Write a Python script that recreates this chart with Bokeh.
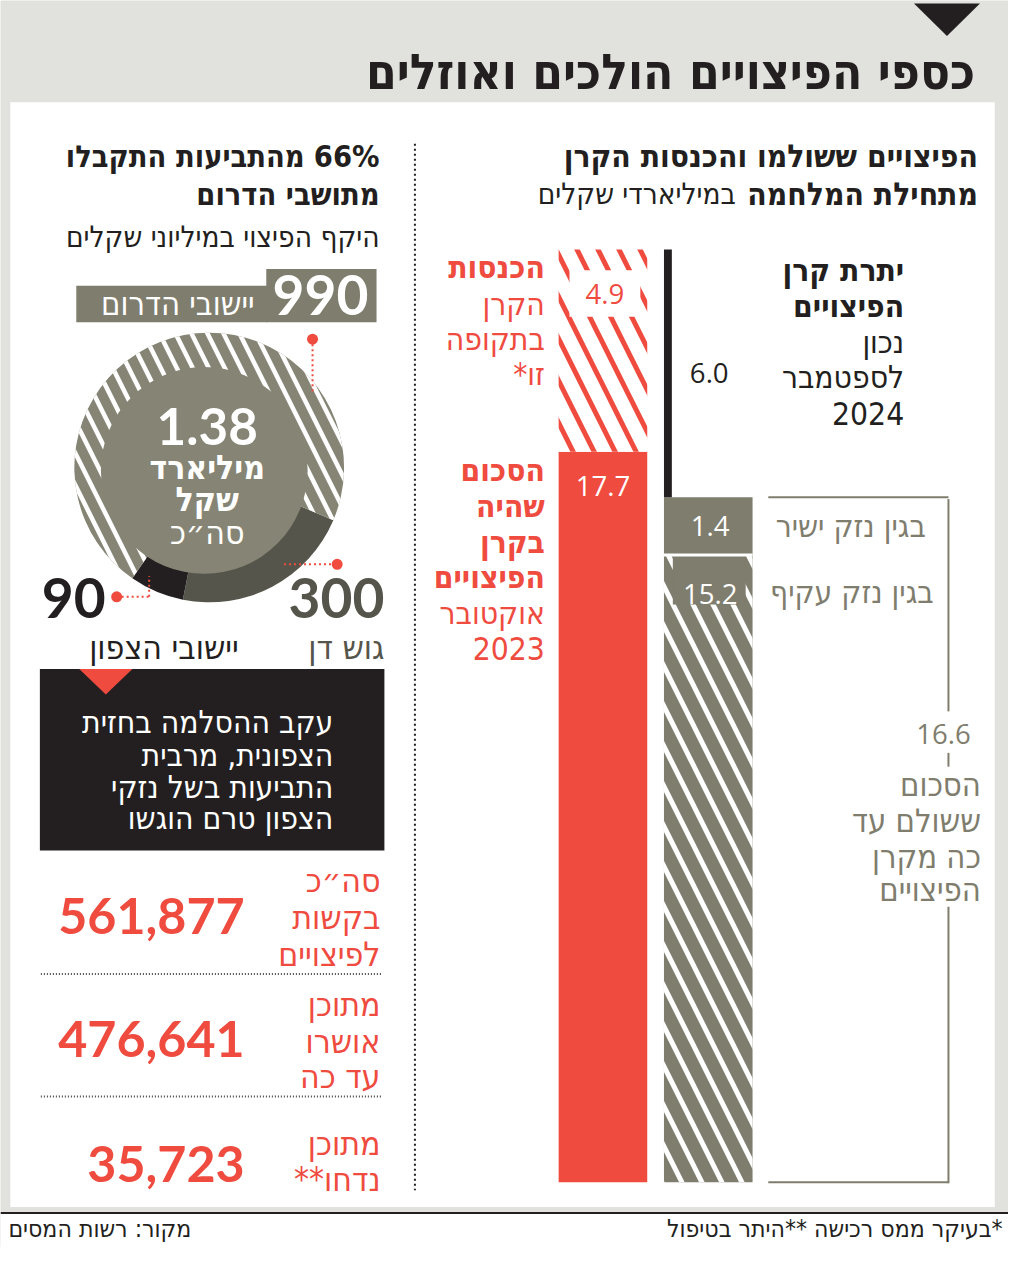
import math
from bokeh.plotting import figure
from bokeh.models import Range1d
from bokeh.embed import file_html
from bokeh.resources import INLINE
from bokeh.core.properties import value

# ---------------- data ----------------
title = "כספי הפיצויים הולכים ואוזלים"
fund_labels = ["הסכום שהיה בקרן הפיצויים אוקטובר 2023", "הכנסות הקרן בתקופה זו"]
fund_values = [17.7, 4.9]            # billions ILS
paid_labels = ["בגין נזק עקיף", "בגין נזק ישיר"]
paid_values = [15.2, 1.4]            # billions ILS
paid_total = 16.6
balance_value = 6.0
region_labels = ["גוש דן", "יישובי הצפון", "יישובי הדרום"]
region_values = [300, 90, 990]       # millions ILS
region_total_bn = 1.38
south_share = "66%"
claim_values = [561877, 476641, 35723]

# ---------------- style ----------------
HEB = "DejaVu Sans Condensed"
NUM = "Lato"
NUM2 = "Open Sans"
RED = "#ef4b3f"
GREY = "#7f7d6d"
PIE_GREY = "#868575"
DARK = "#56554b"
BLACK = "#231f20"
BG = "#e1e1dd"

REF_W, REF_H = 1024, 1263
FIG_W, FIG_H = 1008, 1247
S = FIG_W / REF_W


def Y(py):
    return REF_H - py


BASE = 1197.0      # reference-pixel y of the bar baseline
PX = 41.8          # reference pixels per billion

p = figure(width=FIG_W, height=FIG_H, x_range=Range1d(0, REF_W), y_range=Range1d(0, REF_H),
           x_axis_type=None, y_axis_type=None, toolbar_location=None, output_backend="svg",
           min_border=0, outline_line_color=None, background_fill_color=BG, border_fill_color=BG)
p.extra_y_ranges = {"bars": Range1d(start=-(REF_H - BASE) / PX, end=BASE / PX)}


def T(x, y, s, size, color, bold=False, align="right", font=HEB):
    p.text(x=[x], y=[Y(y)], text=[s], text_font=value(font), text_font_size=f"{size * S:.1f}px",
           text_color=color, text_align=align, text_baseline="middle",
           text_font_style="bold" if bold else "normal")


def TB(x, v, s, size, color, bold=False, align="center", font=NUM2):
    p.text(x=[x], y=[v], text=[s], text_font=value(font), text_font_size=f"{size * S:.1f}px",
           text_color=color, text_align=align, text_baseline="middle", y_range_name="bars",
           text_font_style="bold" if bold else "normal")


# ---------------- frame ----------------
p.quad(left=[10], right=[1010], bottom=[Y(1222)], top=[Y(103)], fill_color="white", line_color=None)
p.quad(left=[0], right=[1024], bottom=[Y(1263)], top=[Y(1229)], fill_color="white", line_color=None)
p.segment(x0=[0], x1=[1024], y0=[Y(1228)], y1=[Y(1228)], line_color=BLACK, line_width=2)
p.patch(x=[928, 995, 961.5], y=[Y(3), Y(3), Y(36)], fill_color=BLACK, line_color=None)
T(990, 72, title, 50, BLACK, bold=True)

# separator
p.segment(x0=[421], x1=[421], y0=[Y(145)], y1=[Y(1205)], line_color=BLACK, line_width=2,
          line_dash="2 3")

# ---------------- right: bars ----------------
T(993, 158, "הפיצויים ששולמו והכנסות הקרן", 32, BLACK, bold=True)
T(993, 196, "מתחילת המלחמה", 32, BLACK, bold=True)
T(747, 196, "במיליארדי שקלים", 30, BLACK)

fund_top = fund_values[0] + fund_values[1]
p.quad(left=[567], right=[657], bottom=[0], top=[fund_values[0]], y_range_name="bars",
       fill_color=RED, line_color=None)
p.quad(left=[567], right=[657], bottom=[fund_values[0]], top=[fund_top], y_range_name="bars",
       fill_color="white", line_color=None, hatch_pattern="left_diagonal_line",
       hatch_color=RED, hatch_scale=42, hatch_weight=5)
p.quad(left=[578], right=[650], bottom=[fund_top - 68 / PX], top=[fund_top - 21 / PX],
       y_range_name="bars", fill_color="white", line_color=None)

p.quad(left=[674], right=[764], bottom=[0], top=[paid_values[0]], y_range_name="bars",
       fill_color=GREY, line_color=None, hatch_pattern="left_diagonal_line",
       hatch_color="white", hatch_scale=40, hatch_weight=5)
p.quad(left=[683], right=[757], bottom=[paid_values[0] - 50 / PX], top=[paid_values[0]],
       y_range_name="bars", fill_color=GREY, line_color=None)
p.quad(left=[674], right=[764], bottom=[paid_values[0]], top=[paid_values[0] + paid_values[1]],
       y_range_name="bars", fill_color=GREY, line_color=None)
p.segment(x0=[674], x1=[764], y0=[paid_values[0]], y1=[paid_values[0]], y_range_name="bars",
          line_color="white", line_width=3)
p.quad(left=[674], right=[682], bottom=[paid_total], top=[paid_total + balance_value],
       y_range_name="bars", fill_color=BLACK, line_color=None)

TB(612, fund_values[0] - 35 / PX, f"{fund_values[0]:.1f}", 28, "white")
TB(614, fund_top - 45 / PX, f"{fund_values[1]:.1f}", 28, RED)
TB(720, paid_total + balance_value / 2, f"{balance_value:.1f}", 28, BLACK)
TB(721, paid_values[0] + paid_values[1] / 2, f"{paid_values[1]:.1f}", 28, "white")
TB(721, paid_values[0] - 39 / PX, f"{paid_values[0]:.1f}", 28, "white")

# bracket
p.segment(x0=[780, 780], x1=[963, 963], y0=[paid_total, 0], y1=[paid_total, 0],
          y_range_name="bars", line_color=GREY, line_width=2)
p.segment(x0=[963, 963, 963], x1=[963, 963, 963], y0=[Y(505), Y(762), Y(918)],
          y1=[Y(720), Y(776), Y(1198)], line_color=GREY, line_width=2)
T(958, 743, f"{paid_total:.1f}", 28, GREY, align="center", font=NUM2)
for yy, s in zip([795, 831, 867, 901], ["הסכום", "ששולם עד", "כה מקרן", "הפיצויים"]):
    T(996, yy, s, 33, GREY)

T(940, 532, paid_labels[1], 32, GREY)
T(948, 599, paid_labels[0], 32, GREY)

for yy, s, b in [(270, "הכנסות", True), (307, "הקרן", False), (343, "בתקופה", False),
                 (378, "*זו", False), (476, "הסכום", True), (512, "שהיה", True),
                 (548, "בקרן", True), (584, "הפיצויים", True), (620, "אוקטובר", False),
                 (656, "2023", False)]:
    T(553, yy, s, 32, RED, bold=b)

for yy, s, b in [(273, "יתרת קרן", True), (309, "הפיצויים", True), (346, "נכון", False),
                 (381, "לספטמבר", False), (418, "2024", False)]:
    T(918, yy, s, 32, BLACK, bold=b)

# ---------------- left: pie ----------------
T(385, 158, south_share, 31, BLACK, bold=True)
T(309, 158, "מהתביעות התקבלו", 31, BLACK, bold=True)
T(385, 196, "מתושבי הדרום", 31, BLACK, bold=True)
T(385, 240, "היקף הפיצוי במיליוני שקלים", 30, BLACK)

p.quad(left=[270], right=[382], bottom=[Y(326)], top=[Y(272)], fill_color=GREY, line_color=None)
p.quad(left=[77], right=[271], bottom=[Y(326)], top=[Y(289)], fill_color=GREY, line_color=None)
T(325, 298, f"{region_values[2]}", 56, "white", bold=True, align="center", font=NUM)
T(258, 307, region_labels[2], 33, "white")

total = sum(region_values)
a0 = math.radians(-23)
cx, cy, R = 212, 473, 137
colors = [DARK, BLACK, PIE_GREY]
cum = 0
for i, v in enumerate(region_values):
    sa = a0 - 2 * math.pi * cum / total
    ea = a0 - 2 * math.pi * (cum + v) / total
    kw = {}
    if i == 2:
        kw = dict(hatch_pattern="left_diagonal_line", hatch_color="white", hatch_scale=32,
                  hatch_weight=4.5)
    p.wedge(x=[cx], y=[Y(cy)], radius=R, start_angle=[sa], end_angle=[ea], direction="clock",
            fill_color=colors[i], line_color=None, **kw)
    cum += v
p.circle(x=[207], y=[Y(476)], radius=105, fill_color=PIE_GREY, line_color=None)

T(210, 431, f"{region_total_bn:.2f}", 52, "white", bold=True, align="center", font=NUM)
T(210, 473, "מיליארד", 34, "white", bold=True, align="center")
T(210, 505, "שקל", 34, "white", bold=True, align="center")
T(210, 539, "סה״כ", 34, "white", align="center")

# leaders
p.segment(x0=[317, 288, 118, 151], x1=[317, 342, 151, 151],
          y0=[Y(343), Y(571), Y(604), Y(604)], y1=[Y(397), Y(571), Y(604), Y(583)],
          line_color=RED, line_width=2, line_dash="2 3")
p.scatter(x=[317, 342, 118], y=[Y(343), Y(571), Y(604)], size=11, fill_color=RED,
          line_color=None)

T(390, 605, f"{region_values[0]}", 56, DARK, bold=True, font=NUM)
T(390, 655, region_labels[0], 34, DARK)
T(42, 605, f"{region_values[1]}", 56, BLACK, bold=True, align="left", font=NUM)
T(242, 655, region_labels[1], 34, BLACK)

# black note box
p.quad(left=[40], right=[390], bottom=[Y(861)], top=[Y(677)], fill_color=BLACK, line_color=None)
p.patch(x=[80, 134, 107], y=[Y(677), Y(677), Y(703)], fill_color=RED, line_color=None)
for yy, s in zip([731, 764, 797, 828], ["עקב ההסלמה בחזית", "הצפונית, מרבית",
                                         "התביעות בשל נזקי", "הצפון טרם הוגשו"]):
    T(338, yy, s, 32, "white")

# claims stats
for yy, vv in zip([927, 1052, 1178], claim_values):
    T(248, yy, f"{vv:,}", 51, RED, bold=True, font=NUM)
for yy, s in [(891, "סה״כ"), (929, "בקשות"), (966, "לפיצויים"), (1017, "מתוכן"),
              (1054, "אושרו"), (1090, "עד כה"), (1158, "מתוכן"), (1194, "**נדחו")]:
    T(386, yy, s, 34, RED)
p.segment(x0=[41, 41], x1=[387, 387], y0=[Y(986), Y(1110)], y1=[Y(986), Y(1110)],
          line_color="#444444", line_width=2, line_dash="1 2")

# footer
T(1018, 1244, "בעיקר ממס רכישה **היתר בטיפול*", 25, BLACK)
T(8, 1244, "מקור: רשות המסים", 25, BLACK, align="left")

open("out.html", "w").write(file_html(p, INLINE))
